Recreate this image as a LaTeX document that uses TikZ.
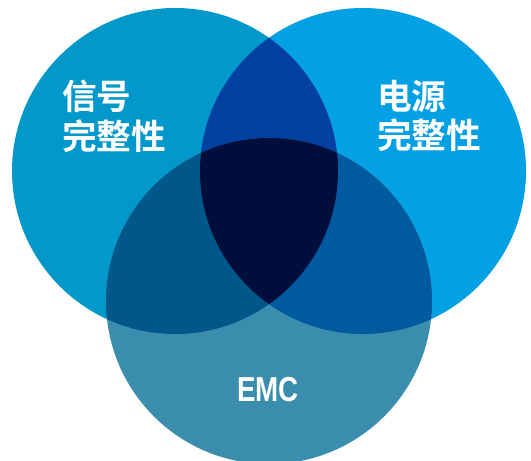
\documentclass[tikz,border=0pt]{standalone}
\usepackage{fontspec}
\setmainfont{Liberation Sans}
\newfontfamily\cjk[BoldFont={Noto Sans CJK SC Bold}]{Noto Sans CJK SC}

\definecolor{sigblue}{HTML}{0398CA}
\definecolor{pwrblue}{HTML}{03A0E4}
\definecolor{emcblue}{HTML}{3A8DAC}
\definecolor{sigpwr}{HTML}{0040A0}
\definecolor{sigemc}{HTML}{00578A}
\definecolor{pwremc}{HTML}{005AA0}
\definecolor{allthree}{HTML}{000E3B}

\tikzset{
  setlabel/.style={
    text=white, inner sep=0pt, anchor=north west, align=left,
    font=\cjk\bfseries\fontsize{26}{29.5}\selectfont
  },
  emclabel/.style={
    text=white, inner sep=0pt,
    font=\bfseries\fontsize{26}{29}\selectfont
  },
}

\begin{document}
\begin{tikzpicture}[x=0.75pt, y=-0.75pt]
  \useasboundingbox (0,0) rectangle (531,460);

  \coordinate (sig) at (175,171);
  \coordinate (pwr) at (363,171);
  \coordinate (emc) at (269,301);

  % the three sets
  \fill[sigblue] (sig) circle[radius=163];
  \fill[pwrblue] (pwr) circle[radius=163];
  \fill[emcblue] (emc) circle[radius=163];

  % pairwise overlaps
  \begin{scope}
    \clip (sig) circle[radius=163];
    \fill[sigpwr] (pwr) circle[radius=163];
    \fill[sigemc] (emc) circle[radius=163];
  \end{scope}
  \begin{scope}
    \clip (pwr) circle[radius=163];
    \fill[pwremc] (emc) circle[radius=163];
  \end{scope}

  % common part
  \begin{scope}
    \clip (sig) circle[radius=163];
    \clip (pwr) circle[radius=163];
    \fill[allthree] (emc) circle[radius=163];
  \end{scope}

  \node[setlabel] (siglbl) at (62,80) {信号\\完整性};
  \node[setlabel] (pwrlbl) at (377,80) {电源\\完整性};
  \node[emclabel] (emclbl) at (268,390) {\scalebox{0.8}[1]{EMC}};
\end{tikzpicture}
\end{document}
